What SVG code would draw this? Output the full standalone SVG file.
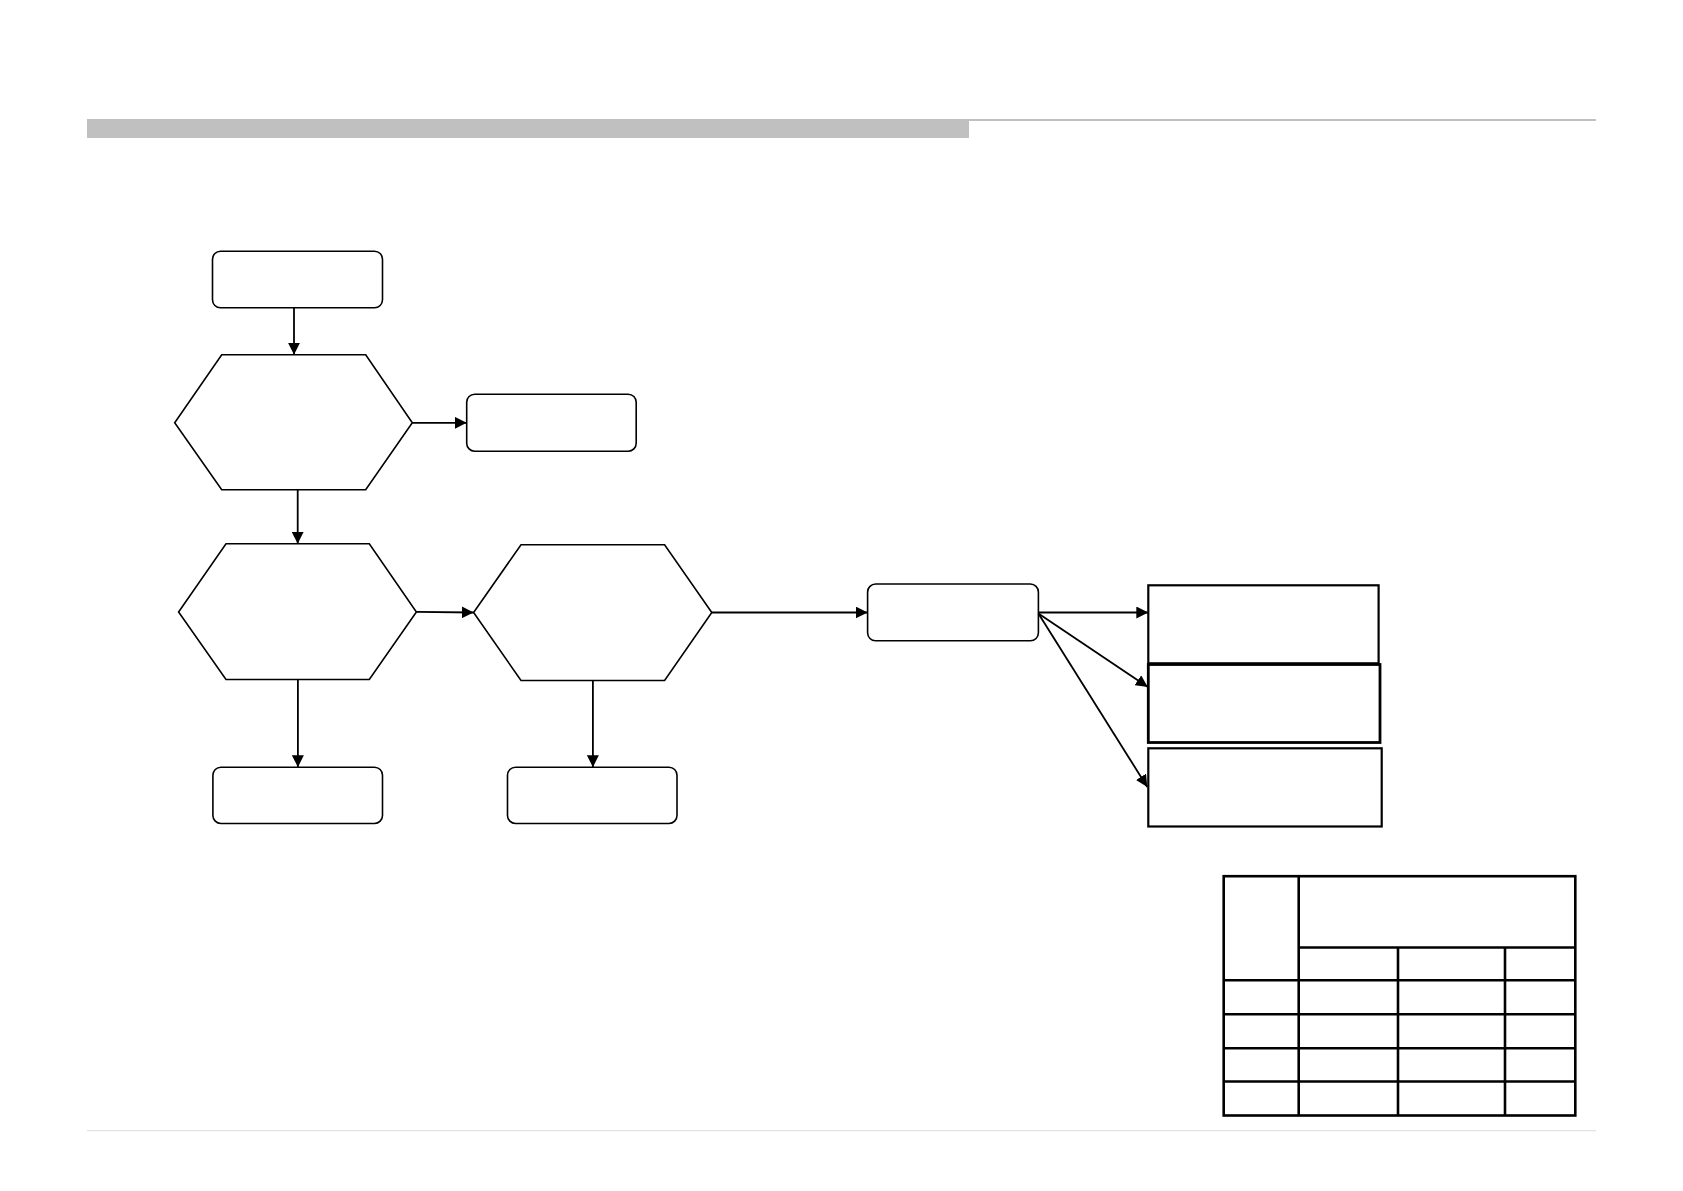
<svg xmlns="http://www.w3.org/2000/svg" width="1683" height="1191" viewBox="0 0 1683 1191">
<style>
.rr{fill:#fff;stroke:#000;stroke-width:1.6}
.hex{fill:#fff;stroke:#000;stroke-width:1.6;stroke-linejoin:miter}
.bx{fill:#fff;stroke:#000;stroke-width:2.2}
.cn{fill:none;stroke:#000;stroke-width:1.8;marker-end:url(#ah)}
.tb{fill:none;stroke:#000;stroke-width:2.6}
</style>
<defs>
<marker id="ah" markerUnits="userSpaceOnUse" markerWidth="13" markerHeight="12" refX="12" refY="6" orient="auto">
<path d="M0,0 L12,6 L0,12 z" fill="#000"/>
</marker>
</defs>
<rect width="1683" height="1191" fill="#fff"/>
<g id="header">
<rect x="87" y="119" width="1509" height="2" fill="#c0c0c0"/>
<rect x="87" y="120" width="882" height="18" fill="#c0c0c0"/>
<rect x="87" y="1130" width="1509" height="1.2" fill="#e2e2e2"/>
</g>
<g id="n-start"><rect class="rr" x="212.5" y="251.2" width="170" height="56.6" rx="8"/></g>
<g id="n-hex1"><polygon class="hex" points="221.7,354.8 365.7,354.8 412.3,422.8 365.7,489.8 221.7,489.8 174.7,422.8"/></g>
<g id="n-right1"><rect class="rr" x="466.7" y="394.2" width="169.5" height="57" rx="8"/></g>
<g id="n-hex2"><polygon class="hex" points="226,543.8 369.3,543.8 416.4,612 369.3,679.5 226,679.5 178.6,612"/></g>
<g id="n-hex3"><polygon class="hex" points="521,544.8 664.6,544.8 711.8,612.5 664.6,680.5 521,680.5 473.6,612.5"/></g>
<g id="n-bottom1"><rect class="rr" x="212.9" y="767.2" width="169.6" height="56.3" rx="8"/></g>
<g id="n-bottom2"><rect class="rr" x="507.5" y="767.2" width="169.5" height="56.3" rx="8"/></g>
<g id="n-mid"><rect class="rr" x="867.6" y="584" width="170.8" height="56.8" rx="8"/></g>
<g id="n-box1"><rect class="bx" x="1148.3" y="585.3" width="230.3" height="78"/></g>
<g id="n-box2"><rect class="bx" style="stroke-width:2.8" x="1148.3" y="664.5" width="231.7" height="78"/></g>
<g id="n-box3"><rect class="bx" x="1148.3" y="748.3" width="233.4" height="78.2"/></g>
<g id="table">
<rect class="tb" x="1223.7" y="876.2" width="351.6" height="239.3"/>
<line class="tb" x1="1298.7" y1="876.2" x2="1298.7" y2="1115.5"/>
<line class="tb" x1="1298.7" y1="947.5" x2="1575.3" y2="947.5"/>
<line class="tb" x1="1398" y1="947.5" x2="1398" y2="1115.5"/>
<line class="tb" x1="1505" y1="947.5" x2="1505" y2="1115.5"/>
<line class="tb" x1="1223.7" y1="980.2" x2="1575.3" y2="980.2"/>
<line class="tb" x1="1223.7" y1="1014.2" x2="1575.3" y2="1014.2"/>
<line class="tb" x1="1223.7" y1="1048.2" x2="1575.3" y2="1048.2"/>
<line class="tb" x1="1223.7" y1="1081.5" x2="1575.3" y2="1081.5"/>
</g>
<g id="connectors">
<path class="cn" d="M294,307.8 L294,354.8"/>
<path class="cn" d="M412.3,422.8 L466.7,422.8"/>
<path class="cn" d="M297.7,489.8 L297.7,543.8"/>
<path class="cn" d="M416.4,611.8 L473.6,612.5"/>
<path class="cn" d="M297.9,679.5 L297.9,767.2"/>
<path class="cn" d="M592.9,680.5 L592.9,767.2"/>
<path class="cn" d="M711.8,612.5 L867.6,612.5"/>
<path class="cn" d="M1038.4,612.5 L1148.3,612.5"/>
<path class="cn" d="M1038.4,613.5 L1147.8,687"/>
<path class="cn" d="M1038.4,613.5 L1147.3,787"/>
</g>
</svg>
